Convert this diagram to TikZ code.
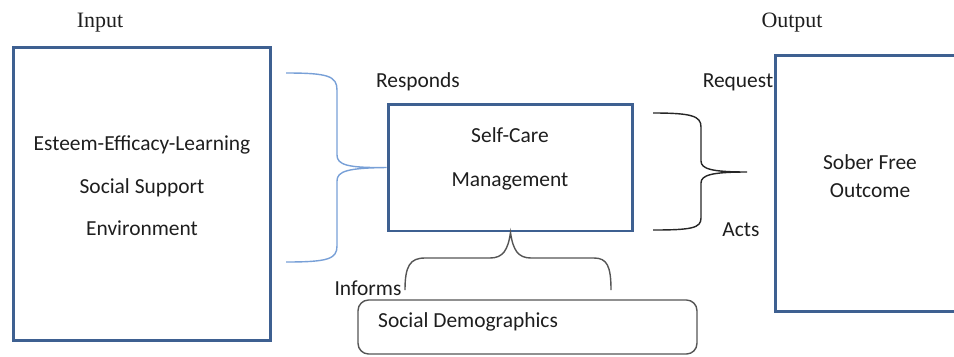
\documentclass[tikz,border=0pt]{standalone}
\usepackage{fontspec}
\setmainfont{Carlito}
\newfontfamily\headfont{Liberation Serif}
\usepackage{xcolor}
\definecolor{boxblue}{RGB}{62,96,145}
\definecolor{bracelight}{RGB}{120,160,215}
\definecolor{inkgray}{RGB}{85,85,85}
\definecolor{txtdark}{RGB}{30,30,30}
\tikzset{
blockBox/.style={draw=boxblue, line width=1.7pt, inner sep=0pt},
roundBox/.style={draw=inkgray, line width=0.8pt, rounded corners=6pt, inner sep=0pt},
headTxt/.style={font=\headfont\fontsize{12.5}{15}\selectfont, text=txtdark},
bodyTxt/.style={font=\fontsize{12.2}{14.7}\selectfont, text=txtdark, align=center},
braceLine/.style={line width=0.8pt}
}

\begin{document}
\begin{tikzpicture}[x=0.02cm,y=-0.02cm]
    \useasboundingbox (0,0) rectangle (954,356);
    \clip (0,0) rectangle (954,356);
    % boxes
    \node[blockBox, minimum width=5.16cm, minimum height=5.88cm] (input) at (142,194) {};
    \node[blockBox, minimum width=4.9cm, minimum height=2.54cm] (selfcare) at (510.5,167.5) {};
    \node[blockBox, minimum width=4.5cm, minimum height=5.14cm] (output) at (887.5,183.5) {};
    \node[roundBox, minimum width=6.78cm, minimum height=1.08cm] (demo) at (527.5,327) {};
    % texts
    \node[headTxt] (inputHd) at (100,23) {Input};
    \node[headTxt] (outputHd) at (792,23) {Output};
    \node[bodyTxt] (inputTxt) at (142,186) {Esteem-Efficacy-Learning\\[9.4pt]Social Support\\[9.4pt]Environment};
    \node[bodyTxt] (selfcareTxt) at (510,159) {Self-Care\\[10.1pt]Management};
    \node[bodyTxt] (outputTxt) at (870,176) {Sober Free\\[1.3pt]Outcome};
    \node[bodyTxt, anchor=west] (demoTxt) at (372,322) {Social Demographics};
    \node[bodyTxt] (responds) at (418,82) {Responds};
    \node[bodyTxt] (request) at (738,82) {Request};
    \node[bodyTxt] (acts) at (741,230) {Acts};
    \node[bodyTxt] (informs) at (368,288) {Informs};
    % brace ends
    \coordinate (lbTop) at (286,73);
    \coordinate (lbBot) at (286,262);
    \coordinate (rbTop) at (653,113);
    \coordinate (rbBot) at (653,230);
    \coordinate (rbTip) at (747,172);
    \coordinate (bbLeft) at (405,290);
    \coordinate (bbRight) at (611,290);
    % braces
    \draw[braceLine, draw=bracelight] (lbTop) .. controls (328,73) and (337,76) .. (337,90)
        -- (337,155) .. controls (337,165) and (348,168) .. (selfcare.west)
        .. controls (348,168) and (337,171) .. (337,181)
        -- (337,246) .. controls (337,259) and (328,262) .. (lbBot);
    \draw[braceLine, draw=black!85] (rbTop) .. controls (692,113) and (701,116) .. (701,127)
        -- (701,161) .. controls (701,169) and (712,172) .. (rbTip)
        .. controls (712,172) and (701,175) .. (701,183)
        -- (701,218) .. controls (701,228) and (692,230) .. (rbBot);
    \draw[braceLine, draw=inkgray] (bbLeft) .. controls (405,266) and (410,258) .. (425,258)
        -- (490,258) .. controls (503,258) and (508,250) .. (selfcare.south)
        .. controls (513,250) and (518,258) .. (531,258)
        -- (594,258) .. controls (607,258) and (611,266) .. (bbRight);
\end{tikzpicture}
\end{document}
